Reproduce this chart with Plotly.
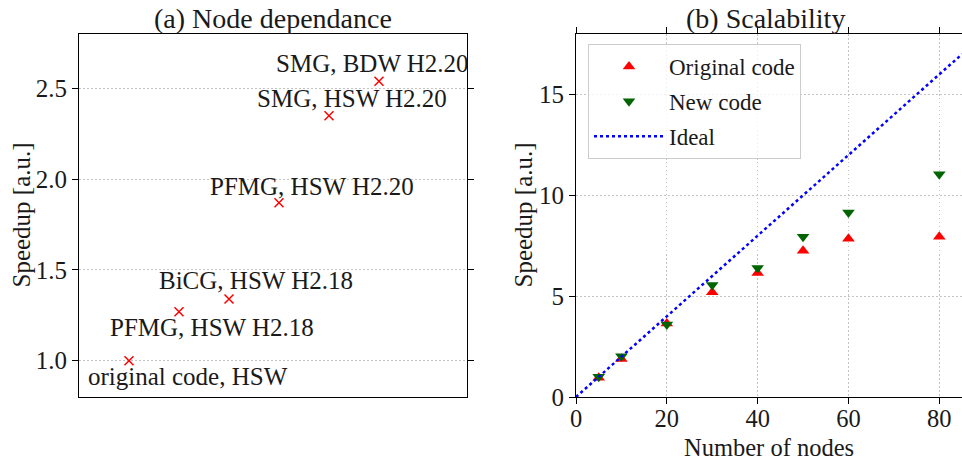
import plotly.graph_objects as go

# ---------------- data ----------------
# Panel (a): node dependance
config_labels = ["original code, HSW", "PFMG, HSW H2.18", "BiCG, HSW H2.18",
                 "PFMG, HSW H2.20", "SMG, HSW H2.20", "SMG, BDW H2.20"]
config_index = [1, 2, 3, 4, 5, 6]
config_speedup = [1.00, 1.27, 1.34, 1.87, 2.35, 2.54]

# Panel (b): scalability
nodes = [5, 10, 20, 30, 40, 50, 60, 80]
original_speedup = [0.95, 1.88, 3.65, 5.2, 6.15, 7.25, 7.85, 7.95]
new_speedup = [1.0, 2.02, 3.6, 5.55, 6.4, 7.95, 9.15, 11.05]
ideal_nodes = [0, 85]
ideal_speedup = [0, 17]

# label offsets (px) relative to each marker in panel (a)
label_dx = [59, 33, 27, 33, 23, -7]
label_dy = [-16, -16, 18, 16, 17, 18]

FONT = "Liberation Serif"
FS = 25
TFS = 28
TXT = "#1a1a1a"
GRID = "#c4c4c4"
GDASH = "1.5px,2.5px"

fig = go.Figure()

fig.add_trace(go.Scatter(
    x=config_index, y=config_speedup, mode="markers",
    marker=dict(symbol="x-thin", size=9, line=dict(color="red", width=1.5), color="red"),
    showlegend=False, xaxis="x", yaxis="y"))

fig.add_trace(go.Scatter(
    x=nodes, y=original_speedup, mode="markers", name="Original code",
    legendgroup="a",
    marker=dict(symbol="triangle-up", size=11, color="red"),
    xaxis="x2", yaxis="y2"))
fig.add_trace(go.Scatter(
    x=nodes, y=new_speedup, mode="markers", name="New code",
    legendgroup="b",
    marker=dict(symbol="triangle-down", size=11, color="darkgreen"),
    xaxis="x2", yaxis="y2"))
fig.add_trace(go.Scatter(
    x=ideal_nodes, y=ideal_speedup, mode="lines", name="Ideal",
    legendgroup="c",
    line=dict(color="blue", dash="dot", width=2.5),
    xaxis="x2", yaxis="y2"))

annotations = []
for xi, yi, txt, dx, dy in zip(config_index, config_speedup, config_labels, label_dx, label_dy):
    annotations.append(dict(x=xi, y=yi, xref="x", yref="y", text=txt, showarrow=False,
                            xanchor="center", yanchor="middle", xshift=dx, yshift=dy,
                            font=dict(family=FONT, size=FS, color=TXT)))

W, H = 962, 460
left_dom = [79 / W, 467 / W]
right_dom = [576 / W, 1.0]
y_dom = [1 - 397 / H, 1 - 34 / H]
y_mid = sum(y_dom) / 2

def txt_font(s):
    return dict(family=FONT, size=s, color=TXT)

annotations += [
    dict(x=sum(left_dom) / 2, y=1 - 18 / H, xref="paper", yref="paper",
         text="(a) Node dependance", showarrow=False, xanchor="center",
         yanchor="middle", font=txt_font(TFS)),
    dict(x=765 / W, y=1 - 18 / H, xref="paper", yref="paper",
         text="(b) Scalability", showarrow=False, xanchor="center",
         yanchor="middle", font=txt_font(TFS)),
    dict(x=21 / W, y=y_mid, xref="paper", yref="paper", text="Speedup [a.u.]",
         textangle=-90, showarrow=False, xanchor="center", yanchor="middle",
         font=txt_font(FS)),
    dict(x=523 / W, y=y_mid, xref="paper", yref="paper", text="Speedup [a.u.]",
         textangle=-90, showarrow=False, xanchor="center", yanchor="middle",
         font=txt_font(FS)),
    dict(x=769 / W, y=1 - 447 / H, xref="paper", yref="paper", text="Number of nodes",
         showarrow=False, xanchor="center", yanchor="middle", font=txt_font(24.5)),
]

axis_common = dict(showline=True, linecolor="black", linewidth=1, ticks="outside",
                   ticklen=6, tickcolor="black", zeroline=False, automargin=False)

fig.update_layout(
    width=W, height=H,
    margin=dict(l=0, r=0, t=0, b=0, autoexpand=False),
    paper_bgcolor="white", plot_bgcolor="white",
    font=txt_font(FS),
    xaxis=dict(domain=left_dom, range=[0, 7.76], showline=True, linecolor="black",
               linewidth=1, mirror=True, showticklabels=False, ticks="",
               showgrid=False, zeroline=False, anchor="y", automargin=False),
    yaxis=dict(domain=y_dom, range=[0.8, 2.8], dtick=0.5, tickformat=".1f",
               mirror="ticks", showgrid=True, gridcolor=GRID, griddash=GDASH,
               gridwidth=1, anchor="x", tickfont=txt_font(FS), **axis_common),
    xaxis2=dict(domain=right_dom, range=[0, 85], dtick=20, mirror="ticks",
                showgrid=True, gridcolor=GRID, griddash=GDASH, gridwidth=1, anchor="y2",
                ticklabelstandoff=-6, tickfont=txt_font(24.5), **axis_common),
    yaxis2=dict(domain=y_dom, range=[0, 18], dtick=5, mirror=False,
                showgrid=True, gridcolor=GRID, griddash=GDASH, gridwidth=1, anchor="x2",
                tickfont=txt_font(FS), **axis_common),
    legend=dict(x=588 / W, y=1 - 44 / H, xanchor="left", yanchor="top",
                bgcolor="rgba(255,255,255,0.8)", bordercolor="#cccccc", borderwidth=1,
                font=txt_font(23), itemwidth=70, tracegroupgap=2),
    annotations=annotations,
    showlegend=True,
)

fig.write_html("out.html")
